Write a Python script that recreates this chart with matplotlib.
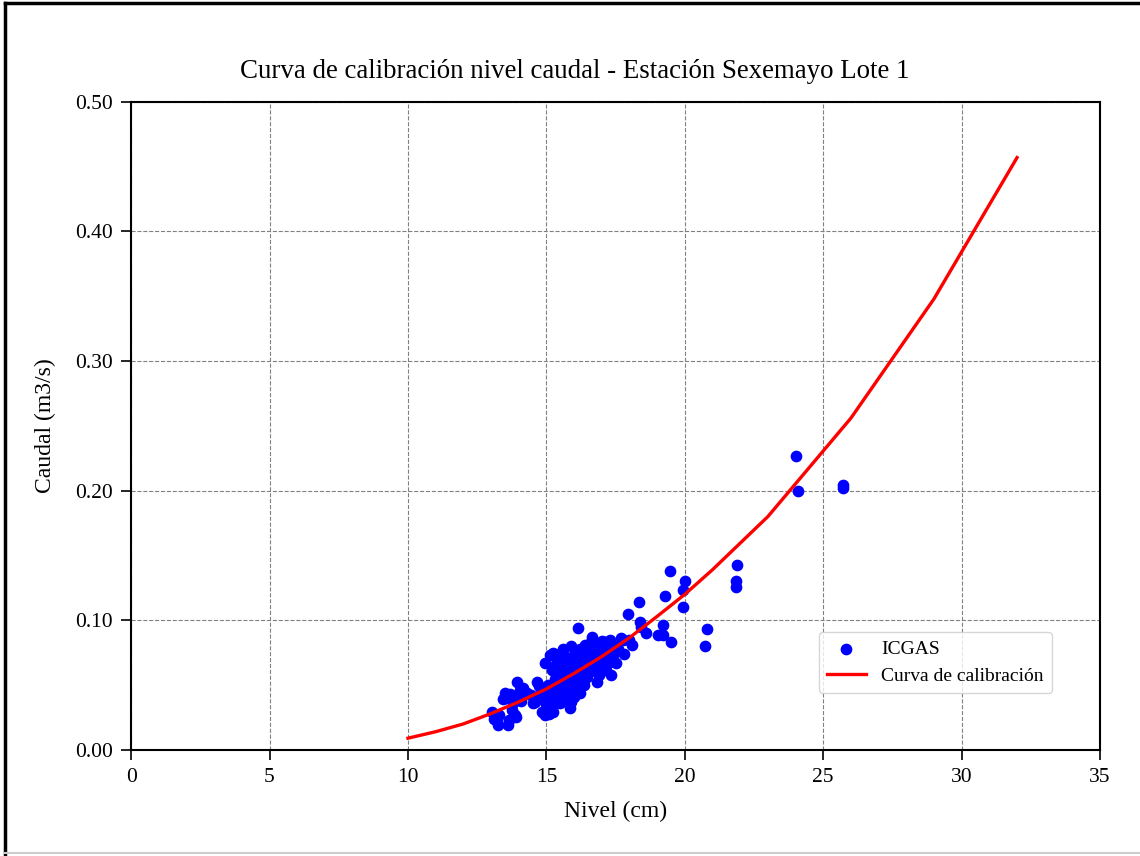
import matplotlib
matplotlib.use("Agg")
import matplotlib.pyplot as plt
from matplotlib.lines import Line2D
from matplotlib.ticker import FormatStrFormatter

plt.rcParams['font.family'] = ['Liberation Serif', 'DejaVu Serif']

# measured level (cm) and discharge (m3/s) - ICGAS
nivel = [13.05, 13.1, 13.2, 13.3, 13.27, 13.45, 13.5, 13.55, 13.6, 13.65,
         13.7, 13.75, 13.85, 13.9, 13.94, 14.0, 14.05, 14.1, 14.15, 13.8,
         14.3, 14.45, 14.5, 14.6, 14.66, 14.75, 14.8, 14.85, 14.9, 14.95,
         14.95, 15.0, 15.0, 15.05, 15.1, 15.13, 15.13, 15.2, 15.2, 15.24,
         15.3, 15.3, 15.35, 15.4, 15.45, 15.5, 15.5, 15.55, 15.6, 15.6,
         15.65, 15.7, 15.7, 15.75, 15.8, 15.85, 15.85, 15.9, 15.9, 15.95,
         16.0, 16.0, 16.05, 16.1, 16.15, 16.15, 16.2, 16.2, 16.25, 16.3,
         16.35, 16.4, 16.4, 16.45, 16.5, 16.5, 16.55, 16.6, 16.65, 16.65,
         16.7, 16.75, 16.8, 16.83, 16.85, 16.9, 16.95, 17.0, 17.0, 17.05,
         17.12, 17.15, 17.2, 17.3, 17.3, 17.35, 17.4, 17.45, 17.5, 17.6,
         17.7, 17.77, 17.8, 17.95, 18.0, 18.1, 18.35, 18.38, 18.4, 18.6,
         19.04, 19.2, 19.2, 19.29, 19.47, 19.5, 19.94, 19.94, 20.0, 20.73,
         20.8, 21.85, 21.85, 21.9, 24.0, 24.1, 25.7, 25.72,
         15.4, 15.6, 15.8, 16.0, 16.1, 16.3, 16.5, 16.7, 16.9, 17.1,
         15.9, 16.2, 16.4, 16.6, 15.7, 15.5, 15.3, 16.0, 16.8, 17.2,
         15.1, 15.25, 15.0, 15.9, 16.3, 16.6, 17.0, 15.6]
caudal = [0.029, 0.024, 0.022, 0.027, 0.019, 0.039, 0.044, 0.040, 0.019, 0.023,
          0.043, 0.031, 0.027, 0.025, 0.052, 0.041, 0.046, 0.038, 0.048, 0.036,
          0.044, 0.042, 0.036, 0.037, 0.052, 0.049, 0.044, 0.029, 0.040, 0.027,
          0.067, 0.035, 0.045, 0.050, 0.038, 0.073, 0.035, 0.062, 0.031, 0.075,
          0.055, 0.042, 0.066, 0.047, 0.074, 0.059, 0.036, 0.050, 0.056, 0.043,
          0.067, 0.072, 0.039, 0.062, 0.052, 0.032, 0.046, 0.080, 0.069, 0.058,
          0.064, 0.041, 0.075, 0.053, 0.094, 0.047, 0.078, 0.066, 0.059, 0.072,
          0.050, 0.081, 0.064, 0.056, 0.075, 0.068, 0.060, 0.079, 0.087, 0.070,
          0.063, 0.076, 0.082, 0.052, 0.068, 0.058, 0.074, 0.080, 0.065, 0.071,
          0.083, 0.062, 0.077, 0.085, 0.068, 0.058, 0.073, 0.080, 0.067, 0.078,
          0.086, 0.085, 0.074, 0.105, 0.085, 0.081, 0.114, 0.099, 0.095, 0.090,
          0.089, 0.096, 0.089, 0.119, 0.138, 0.083, 0.123, 0.110, 0.130, 0.080,
          0.093, 0.130, 0.126, 0.143, 0.227, 0.200, 0.204, 0.202,
          0.060, 0.065, 0.070, 0.072, 0.068, 0.061, 0.071, 0.072, 0.079, 0.074,
          0.048, 0.044, 0.057, 0.066, 0.055, 0.052, 0.048, 0.056, 0.061, 0.070,
          0.028, 0.029, 0.031, 0.037, 0.077, 0.083, 0.084, 0.078]

# calibration curve
nivel_curva = [10, 11, 12, 13, 14, 15, 16, 17, 18, 19, 20, 21, 23, 26, 29, 32]
caudal_curva = [0.009, 0.014, 0.020, 0.028, 0.037, 0.047, 0.059, 0.072,
                0.0865, 0.103, 0.120, 0.139, 0.180, 0.256, 0.348, 0.457]

fig = plt.figure(figsize=(11.4, 8.56), dpi=100)
ax = fig.add_axes([0.115, 0.124, 0.85, 0.757])

ax.scatter(nivel, caudal, s=55, color='blue', label='ICGAS', zorder=3)
ax.plot(nivel_curva, caudal_curva, color='red', lw=2.4, label='Curva de calibración', zorder=4)

ax.set_xlim(0, 35)
ax.set_ylim(0, 0.5)
ax.set_xticks(range(0, 36, 5))
ax.set_yticks([0, 0.1, 0.2, 0.3, 0.4, 0.5])
ax.yaxis.set_major_formatter(FormatStrFormatter('%.2f'))
ax.tick_params(labelsize=15.5, length=7, width=1.2, pad=6)
for sp in ax.spines.values():
    sp.set_linewidth(1.5)
ax.grid(True, linestyle='--', color='gray', lw=0.8)
ax.set_axisbelow(True)

fig.text(0.504, 0.916, 'Curva de calibración nivel caudal - Estación Sexemayo Lote 1',
         fontsize=19.4, ha='center', va='center')
ax.set_xlabel('Nivel (cm)', fontsize=17, labelpad=10)
ax.set_ylabel('Caudal (m3/s)', fontsize=17, labelpad=14)
ax.legend(loc='lower right', bbox_to_anchor=(0.96, 0.073), fontsize=14)

# screenshot frame
fig.add_artist(Line2D([0.004, 0.004], [0, 0.997], color='black', lw=2.5, transform=fig.transFigure))
fig.add_artist(Line2D([0.004, 1], [0.997, 0.997], color='black', lw=2.5, transform=fig.transFigure))
fig.add_artist(Line2D([0.004, 1], [0.004, 0.004], color='#cccccc', lw=1.5, transform=fig.transFigure))

fig.savefig('out.png', dpi=100)
